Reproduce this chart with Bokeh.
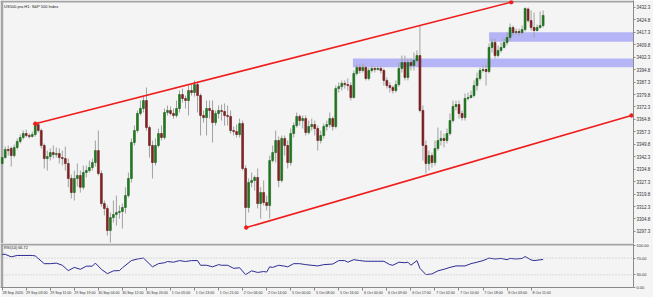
from bokeh.plotting import figure
from bokeh.layouts import column
from bokeh.models import (ColumnDataSource, FixedTicker, LinearAxis, Range1d,
                          BoxAnnotation, Span, Label, NumeralTickFormatter)
from bokeh.embed import file_html
from bokeh.resources import INLINE

# ---------------- data (H1 candles, bar index 0 = 28 Sep 2020) ----------------
opens = [3338.2, 3341.8, 3346.7, 3347.3, 3343.0, 3347.9, 3351.5, 3353.9, 3356.3, 3355.1,
         3354.5, 3355.7, 3361.7, 3358.1, 3349.1, 3341.2, 3342.4, 3344.8, 3343.6, 3344.2,
         3341.8, 3341.2, 3338.2, 3329.2, 3320.7, 3329.2, 3331.0, 3323.9, 3332.8, 3334.0,
         3335.8, 3338.8, 3346.0, 3332.2, 3314.1, 3311.1, 3297.8, 3305.6, 3307.5, 3308.7,
         3309.3, 3311.7, 3318.9, 3329.2, 3350.9, 3358.1, 3368.4, 3371.4, 3376.2, 3359.9,
         3349.1, 3338.8, 3349.1, 3356.3, 3353.9, 3369.0, 3370.2, 3368.4, 3367.2, 3371.4,
         3379.8, 3377.4, 3376.2, 3382.2, 3381.0, 3385.8, 3379.2, 3367.2, 3365.9, 3371.4,
         3370.2, 3362.9, 3368.4, 3370.2, 3369.6, 3367.2, 3366.6, 3358.1, 3357.5, 3355.7,
         3362.3, 3335.2, 3311.7, 3326.8, 3328.0, 3329.8, 3314.1, 3320.7, 3314.7, 3312.9,
         3340.0, 3344.8, 3352.1, 3328.0, 3353.3, 3349.1, 3338.8, 3356.3, 3361.1, 3366.6,
         3364.1, 3365.3, 3356.9, 3360.5, 3361.7, 3359.3, 3352.1, 3355.1, 3360.5, 3361.7,
         3365.3, 3360.5, 3383.4, 3384.6, 3386.5, 3385.8, 3385.2, 3378.0, 3392.5, 3396.1,
         3394.3, 3396.1, 3389.5, 3394.3, 3395.5, 3394.9, 3395.5, 3394.3, 3388.3, 3385.2,
         3384.0, 3382.2, 3385.8, 3395.5, 3399.1, 3390.1, 3399.1, 3397.3, 3400.3, 3403.3,
         3370.2, 3349.1, 3338.2, 3343.0, 3338.8, 3347.3, 3352.1, 3353.3, 3352.1, 3356.3,
         3364.1, 3372.6, 3373.8, 3368.4, 3365.9, 3377.4, 3378.0, 3379.2, 3385.2, 3389.5,
         3394.3, 3394.9, 3393.7, 3408.2, 3411.2, 3403.3, 3406.4, 3408.2, 3411.2, 3414.2,
         3420.2, 3417.2, 3417.8, 3417.2, 3419.0, 3431.4, 3424.4, 3420.2, 3418.4, 3420.2,
         3421.4]
highs = [3344.8, 3348.5, 3349.1, 3348.5, 3349.7, 3353.3, 3355.7, 3358.1, 3358.7, 3356.3,
         3357.5, 3363.5, 3363.5, 3359.3, 3350.3, 3346.0, 3347.3, 3349.1, 3347.9, 3347.3,
         3346.0, 3348.5, 3341.2, 3331.6, 3334.0, 3338.2, 3334.0, 3337.0, 3337.0, 3340.0,
         3341.2, 3352.1, 3358.1, 3334.0, 3315.9, 3312.9, 3308.7, 3315.9, 3318.9, 3312.9,
         3314.1, 3323.9, 3332.8, 3353.3, 3361.1, 3370.2, 3376.2, 3379.2, 3384.0, 3361.1,
         3352.1, 3353.3, 3359.3, 3361.1, 3371.4, 3373.2, 3372.6, 3371.4, 3376.2, 3382.2,
         3383.4, 3379.2, 3385.2, 3385.8, 3388.3, 3387.7, 3380.4, 3370.2, 3376.2, 3376.2,
         3376.2, 3370.2, 3373.2, 3373.8, 3374.4, 3373.2, 3370.2, 3360.5, 3361.7, 3365.3,
         3364.1, 3337.0, 3329.2, 3332.8, 3331.0, 3335.2, 3323.9, 3328.0, 3318.9, 3343.0,
         3349.1, 3358.1, 3354.5, 3355.1, 3355.1, 3352.1, 3359.3, 3362.9, 3369.0, 3367.8,
         3367.2, 3367.2, 3364.1, 3365.3, 3364.1, 3361.1, 3358.1, 3362.3, 3364.1, 3369.0,
         3366.6, 3385.2, 3387.1, 3388.3, 3388.3, 3389.5, 3387.1, 3394.3, 3397.9, 3397.9,
         3398.5, 3397.3, 3396.1, 3397.3, 3396.7, 3396.7, 3396.7, 3395.5, 3390.1, 3387.1,
         3385.2, 3388.3, 3399.1, 3403.3, 3403.3, 3401.5, 3401.5, 3405.1, 3406.4, 3421.4,
         3373.2, 3352.1, 3346.0, 3344.8, 3352.1, 3359.9, 3358.1, 3356.3, 3359.3, 3368.4,
         3376.2, 3376.2, 3376.2, 3370.2, 3380.4, 3381.0, 3382.2, 3388.3, 3393.1, 3396.1,
         3397.3, 3397.9, 3410.6, 3413.6, 3413.6, 3409.4, 3411.2, 3413.6, 3417.2, 3422.6,
         3421.4, 3419.6, 3419.6, 3421.4, 3432.3, 3432.3, 3430.5, 3429.3, 3422.0, 3429.9,
         3430.5]
lows = [3336.4, 3341.2, 3343.0, 3336.4, 3341.8, 3346.7, 3350.3, 3352.7, 3353.9, 3353.3,
        3353.9, 3354.5, 3356.9, 3347.3, 3335.2, 3334.0, 3340.0, 3341.2, 3341.8, 3338.2,
        3337.0, 3334.0, 3323.9, 3317.1, 3315.9, 3324.3, 3320.7, 3322.5, 3329.8, 3332.8,
        3334.0, 3336.4, 3331.0, 3312.3, 3306.9, 3294.8, 3290.6, 3302.6, 3300.8, 3305.0,
        3299.0, 3308.1, 3317.7, 3326.8, 3349.1, 3356.9, 3367.2, 3369.0, 3358.1, 3341.8,
        3329.2, 3337.0, 3347.9, 3352.1, 3352.7, 3367.2, 3367.2, 3365.3, 3365.9, 3369.0,
        3375.0, 3371.4, 3367.2, 3379.2, 3378.6, 3369.0, 3355.1, 3362.9, 3355.1, 3365.3,
        3350.9, 3361.1, 3365.3, 3364.1, 3361.1, 3361.1, 3356.3, 3355.1, 3353.9, 3353.9,
        3334.0, 3300.2, 3308.7, 3323.9, 3321.9, 3311.1, 3305.0, 3312.9, 3309.9, 3305.0,
        3338.8, 3338.8, 3323.9, 3326.8, 3343.0, 3335.2, 3337.0, 3353.9, 3359.9, 3361.1,
        3359.3, 3355.1, 3355.7, 3358.1, 3355.1, 3346.0, 3350.3, 3353.3, 3358.1, 3359.9,
        3358.1, 3359.3, 3381.0, 3382.2, 3383.4, 3382.2, 3376.2, 3377.4, 3391.3, 3392.5,
        3393.1, 3388.3, 3388.3, 3393.1, 3393.1, 3394.3, 3392.5, 3385.2, 3383.4, 3381.0,
        3380.4, 3381.0, 3384.6, 3393.1, 3388.3, 3388.3, 3394.3, 3394.3, 3399.1, 3369.0,
        3340.0, 3332.2, 3334.0, 3335.8, 3337.0, 3346.0, 3349.1, 3347.9, 3350.3, 3355.1,
        3362.9, 3370.2, 3365.3, 3364.1, 3364.1, 3376.2, 3377.4, 3378.0, 3382.2, 3388.3,
        3393.1, 3385.2, 3392.5, 3405.1, 3401.5, 3402.1, 3405.1, 3407.6, 3409.4, 3412.4,
        3415.4, 3416.0, 3415.4, 3416.0, 3417.8, 3423.2, 3418.4, 3414.2, 3417.8, 3419.6,
        3420.2]
closes = [3341.8, 3346.7, 3346.0, 3343.0, 3347.9, 3351.5, 3353.9, 3356.3, 3355.1, 3354.5,
          3355.7, 3361.7, 3358.1, 3349.1, 3341.2, 3342.4, 3344.8, 3343.6, 3344.2, 3341.8,
          3341.2, 3338.2, 3329.2, 3320.7, 3329.2, 3331.0, 3323.9, 3332.8, 3334.0, 3335.8,
          3338.8, 3346.0, 3332.2, 3314.1, 3311.1, 3297.8, 3305.6, 3307.5, 3308.7, 3309.3,
          3311.7, 3318.9, 3329.2, 3350.9, 3358.1, 3368.4, 3371.4, 3376.2, 3359.9, 3349.1,
          3338.8, 3349.1, 3356.3, 3353.9, 3369.0, 3370.2, 3368.4, 3367.2, 3371.4, 3379.8,
          3377.4, 3376.2, 3382.2, 3381.0, 3385.8, 3379.2, 3367.2, 3365.9, 3371.4, 3370.2,
          3362.9, 3368.4, 3370.2, 3369.6, 3367.2, 3366.6, 3358.1, 3357.5, 3355.7, 3362.3,
          3335.2, 3311.7, 3326.8, 3328.0, 3329.8, 3314.1, 3320.7, 3314.7, 3312.9, 3340.0,
          3344.8, 3352.1, 3328.0, 3353.3, 3349.1, 3338.8, 3356.3, 3361.1, 3366.6, 3364.1,
          3365.3, 3356.9, 3360.5, 3361.7, 3359.3, 3352.1, 3355.1, 3360.5, 3361.7, 3365.3,
          3360.5, 3383.4, 3384.6, 3386.5, 3385.8, 3385.2, 3378.0, 3392.5, 3396.1, 3394.3,
          3396.1, 3389.5, 3394.3, 3395.5, 3394.9, 3395.5, 3394.3, 3388.3, 3385.2, 3384.0,
          3382.2, 3385.8, 3395.5, 3399.1, 3390.1, 3399.1, 3397.3, 3400.3, 3403.3, 3370.2,
          3349.1, 3338.2, 3343.0, 3338.8, 3347.3, 3352.1, 3353.3, 3352.1, 3356.3, 3364.1,
          3372.6, 3373.8, 3368.4, 3365.9, 3377.4, 3378.0, 3379.2, 3385.2, 3389.5, 3394.3,
          3394.9, 3393.7, 3408.2, 3411.2, 3403.3, 3406.4, 3408.2, 3411.2, 3414.2, 3420.2,
          3417.2, 3417.8, 3417.2, 3419.0, 3431.7, 3424.4, 3420.2, 3418.4, 3420.2, 3421.4,
          3427.5]
bars = list(range(len(closes)))

# RSI(14) readings at bar indices
rsi_bars = [0, 1, 3, 5, 10, 11, 14, 16, 18, 20, 22, 24, 26, 28, 30, 31, 33, 35, 37, 39,
            40, 43, 45, 47, 50, 52, 54, 55, 57, 59, 61, 63, 65, 66, 68, 70, 72, 73, 75, 77,
            79, 81, 83, 85, 87, 88, 89, 90, 92, 94, 95, 97, 99, 101, 105, 107, 110, 112, 114, 115,
            117, 119, 121, 125, 127, 129, 130, 132, 134, 135, 136, 138, 139, 141, 143, 145, 147, 149, 151, 154,
            156, 158, 160, 162, 164, 166, 168, 169, 171, 173, 174, 176, 177, 180]
rsi_vals = [78.9, 78.9, 72.9, 76.2, 76.2, 75.1, 56.7, 56.7, 58.0, 52.9, 40.2, 47.8, 43.3, 50.7, 50.7, 58.0, 43.3, 32.9, 39.6, 40.2,
            46.9, 64.0, 67.8, 70.0, 49.1, 56.7, 58.9, 61.8, 60.2, 64.0, 61.8, 64.0, 64.0, 52.9, 52.9, 49.1, 54.4, 52.9, 52.9, 45.6,
            46.9, 30.7, 39.6, 35.8, 38.0, 36.7, 49.1, 47.8, 52.9, 50.7, 49.1, 56.7, 56.7, 54.4, 51.3, 54.4, 55.8, 64.0, 64.0, 60.2,
            66.2, 64.0, 62.4, 62.4, 62.4, 54.4, 52.9, 60.2, 58.9, 60.2, 52.9, 64.0, 45.6, 30.7, 32.2, 39.6, 43.3, 47.8, 51.3, 51.3,
            56.7, 60.2, 64.0, 70.0, 67.8, 69.1, 66.2, 69.1, 67.8, 69.1, 73.6, 65.6, 64.0, 66.72]

price_ticks = [3432.3, 3424.8, 3417.3, 3409.8, 3402.3, 3394.8, 3387.3, 3379.8, 3372.3, 3364.8,
               3357.3, 3349.8, 3342.3, 3334.8, 3327.3, 3319.8, 3312.3, 3304.8, 3297.3]
rsi_ticks = [0, 30, 70, 100]
time_bars = [0, 8, 16, 24, 32, 40, 48, 56, 64, 72, 80, 88, 96, 104, 112, 120, 128, 136, 144, 152,
             160, 168, 176]
time_labels = ["28 Sep 2020", "29 Sep 03:00", "29 Sep 11:00", "29 Sep 19:00", "30 Sep 04:00",
               "30 Sep 12:00", "30 Sep 20:00", "1 Oct 05:00", "1 Oct 13:00", "1 Oct 21:00",
               "2 Oct 06:00", "2 Oct 14:00", "5 Oct 00:00", "5 Oct 08:00", "5 Oct 16:00",
               "6 Oct 00:00", "6 Oct 09:00", "6 Oct 17:00", "7 Oct 02:00", "7 Oct 10:00",
               "7 Oct 18:00", "8 Oct 03:00", "8 Oct 11:00"]

# channel trend lines (bar, price)
upper_bars = [11.0, 169.4]
upper_prices = [3362.2, 3435.5]
lower_bars = [81.2, 209.4]
lower_prices = [3299.6, 3367.2]

# supply/demand zones
zone_left = [162.0, 116.7]
zone_top = [3417.4, 3401.5]
zone_bottom = [3411.6, 3396.3]

title_text = "US500.pro,H1:  S&P 500 Index"
rsi_text = "RSI(14) 66.72"

# ---------------- styling ----------------
BG = "#f4f4f4"
EDGE = "#a4a4a4"
AXIS = "#8a8a8a"
FONT = "Liberation Sans"
X0, X1 = -0.565, 210.07
x_range = Range1d(X0, X1)

p1 = figure(width=653, height=243, x_range=x_range, y_range=Range1d(3290.0, 3436.5),
            output_backend="svg", toolbar_location=None,
            x_axis_location=None, y_axis_location=None,
            min_border_left=0, min_border_top=0, min_border_bottom=0, min_border_right=19,
            background_fill_color=BG, border_fill_color=BG, outline_line_color=None)
p1.grid.visible = False

p1.add_layout(BoxAnnotation(right=X0 + 0.9, fill_color=EDGE, fill_alpha=1, line_color=None, level="underlay"))
p1.add_layout(BoxAnnotation(bottom=3435.3, fill_color=EDGE, fill_alpha=1, line_color=None, level="underlay"))

# zones
p1.quad(left=zone_left, right=[X1 + 1] * len(zone_left), top=zone_top, bottom=zone_bottom,
        fill_color="#b4b4f6", line_color=None)

# candles
p1.segment(x0=bars, y0=lows, x1=bars, y1=highs, line_color="#a0a0a0", line_width=1)
bull = [i for i in bars if closes[i] >= opens[i]]
bear = [i for i in bars if closes[i] < opens[i]]
src_bull = ColumnDataSource(dict(x=bull, top=[closes[i] for i in bull], bottom=[opens[i] for i in bull]))
src_bear = ColumnDataSource(dict(x=bear, top=[opens[i] for i in bear], bottom=[closes[i] for i in bear]))
p1.vbar(x="x", top="top", bottom="bottom", width=0.62, source=src_bull,
        fill_color="#207d20", line_color="#165e16", line_width=0.6)
p1.vbar(x="x", top="top", bottom="bottom", width=0.62, source=src_bear,
        fill_color="#862424", line_color="#641818", line_width=0.6)

# channel
RED = "#f01c1c"
p1.line(upper_bars, upper_prices, line_color=RED, line_width=1.6)
p1.line(lower_bars, lower_prices, line_color=RED, line_width=1.6)
p1.scatter(upper_bars + lower_bars, upper_prices + lower_prices, size=3.5, color=RED)

# right price axis
ax = LinearAxis(ticker=FixedTicker(ticks=price_ticks), formatter=NumeralTickFormatter(format="0.0"))
ax.axis_line_color = AXIS
ax.major_tick_line_color = AXIS
ax.major_tick_out = 2
ax.major_tick_in = 0
ax.minor_tick_line_color = None
ax.major_label_standoff = 1
ax.major_label_text_font_size = "4.5px"
ax.major_label_text_font = FONT
ax.major_label_text_color = "#333333"
p1.add_layout(ax, "right")

p1.add_layout(Label(x=X0 + 1.2, y=3432.9, text=title_text, text_font_size="4px", text_font=FONT,
                    text_baseline="middle", text_color="#222222"))

# ---------------- RSI panel ----------------
p2 = figure(width=653, height=54, x_range=x_range, y_range=Range1d(0, 104.65),
            output_backend="svg", toolbar_location=None,
            x_axis_location=None, y_axis_location=None,
            min_border_left=0, min_border_top=0, min_border_bottom=9, min_border_right=19,
            background_fill_color=BG, border_fill_color=BG, outline_line_color=None)
p2.grid.visible = False
p2.add_layout(BoxAnnotation(right=X0 + 0.9, fill_color=EDGE, fill_alpha=1, line_color=None, level="underlay"))
p2.add_layout(BoxAnnotation(bottom=100, fill_color=EDGE, fill_alpha=1, line_color=None, level="underlay"))
for lv in (70, 30):
    p2.add_layout(Span(location=lv, dimension="width", line_color="#bdbdbd", line_dash="1 2", line_width=1))
p2.line(rsi_bars, rsi_vals, line_color="#2b2b95", line_width=1)

ax2 = LinearAxis(ticker=FixedTicker(ticks=rsi_ticks), formatter=NumeralTickFormatter(format="0.00"))
ax2.axis_line_color = AXIS
ax2.major_tick_line_color = AXIS
ax2.major_tick_out = 2
ax2.major_tick_in = 0
ax2.minor_tick_line_color = None
ax2.major_label_standoff = 1
ax2.major_label_text_font_size = "4px"
ax2.major_label_text_font = FONT
ax2.major_label_text_color = "#333333"
p2.add_layout(ax2, "right")

label_pos = [b + 3.5 for b in time_bars]
axb = LinearAxis(ticker=FixedTicker(ticks=label_pos, minor_ticks=time_bars),
                 major_label_overrides={pos: lab for pos, lab in zip(label_pos, time_labels)})
axb.axis_line_color = AXIS
axb.major_tick_line_color = None
axb.major_tick_out = 1
axb.major_tick_in = 0
axb.minor_tick_line_color = AXIS
axb.minor_tick_out = 3
axb.minor_tick_in = 0
axb.major_label_standoff = 0
axb.major_label_text_font_size = "3.6px"
axb.major_label_text_font = FONT
axb.major_label_text_color = "#333333"
p2.add_layout(axb, "below")

p2.add_layout(Label(x=X0 + 1.2, y=94, text=rsi_text, text_font_size="3.8px", text_font=FONT,
                    text_baseline="middle", text_color="#222222"))

layout = column(p1, p2, spacing=0)
open("out.html", "w").write(file_html(layout, INLINE))
